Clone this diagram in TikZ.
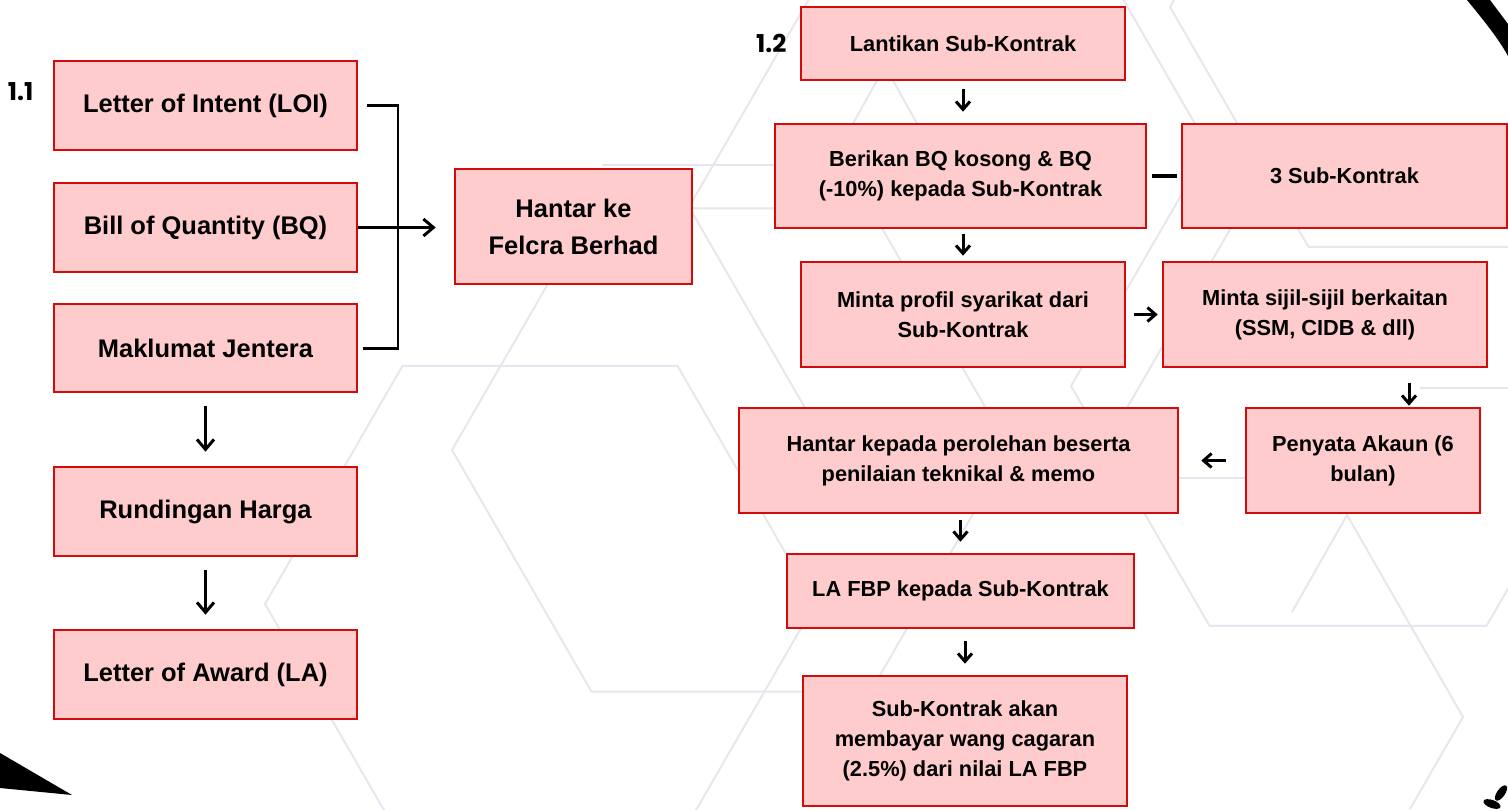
\documentclass[tikz,border=0pt]{standalone}
\usepackage{fontspec}
\setmainfont{Liberation Sans}
\newfontfamily\numfont{Poppins}
\usetikzlibrary{arrows.meta, positioning, calc}
\definecolor{boxfill}{HTML}{FFCCCE}
\definecolor{boxred}{HTML}{D40B0B}
\definecolor{hexgrey}{HTML}{E6E6EE}

\tikzset{
  stepbox/.style={draw=boxred, fill=boxfill, line width=1.5pt, align=center, inner sep=2pt,
    font=\fontsize{14.5}{21}\selectfont\bfseries},
  smallbox/.style={stepbox, font=\fontsize{12.4}{17}\selectfont\bfseries},
  numlabel/.style={font=\numfont\fontsize{14}{16}\selectfont\bfseries, inner sep=0pt},
  link/.style={line width=1.7pt, black},
  flow/.style={link, -{Straight Barb[length=0.2cm, width=0.34cm]}},
  shortflow/.style={link, -{Straight Barb[length=0.16cm, width=0.28cm]}},
  hexline/.style={draw=hexgrey, line width=1.1pt, line join=round}
}

\begin{document}
\begin{tikzpicture}[x=0.02cm, y=-0.02cm]
  % page and margins
  \fill[white] (0,0) rectangle (1508,809);
  \useasboundingbox (0,0) rectangle (1508,809);

  % faint hexagon pattern in the background
  \foreach \cx/\cy/\r in {540/604/275, 731/450/279, 1348/386/277, 1447/7/277, 966/207/277}
    \draw[hexline] (\cx,\cy) +(0:\r) -- +(60:\r) -- +(120:\r) -- +(180:\r) -- +(240:\r) -- +(300:\r) -- cycle;
  \draw[hexline] (1292,612) -- (1347,515) -- (1463,717) -- (1410,809);
  \draw[hexline] (840,147) -- (885,66) -- (930,147);
  \draw[hexline] (602,165) -- (780,165);
  \draw[hexline] (1150,478) -- (1300,478);
  \draw[hexline] (1420,388) -- (1508,388);

  % corner ornaments
  \fill[black] (1467,0) .. controls (1485,22) and (1498,38) .. (1508,56) -- (1508,24)
    .. controls (1502,16) and (1496,8) .. (1490,0) -- cycle;
  \fill[black] (0,753) -- (72,795) -- (0,788) -- cycle;
  \fill[black] (1501,793) ellipse [x radius=4, y radius=9, rotate=-35];
  \fill[black] (1492,804) ellipse [x radius=9, y radius=4, rotate=-20];

  % 1.1 left column
  \node[stepbox, minimum width=6.06cm, minimum height=1.78cm] (loi) at (205.5,105.5) {Letter of Intent (LOI)};
  \node[stepbox, minimum width=6.06cm, minimum height=1.78cm] (bq) at (205.5,227.5) {Bill of Quantity (BQ)};
  \node[stepbox, minimum width=6.06cm, minimum height=1.76cm] (jentera) at (205.5,348) {Maklumat Jentera};
  \node[stepbox, minimum width=6.06cm, minimum height=1.78cm] (harga) at (205.5,511.5) {Rundingan Harga};
  \node[stepbox, minimum width=6.06cm, minimum height=1.78cm] (award) at (205.5,674.5) {Letter of Award (LA)};
  \node[stepbox, minimum width=4.74cm, minimum height=2.3cm] (felcra) at (573.5,226.5) {Hantar ke\\Felcra Berhad};
  \node[numlabel, anchor=east] (num11) at ([xshift=-0.38cm, yshift=0.27cm]loi.west) {1.1};

  \coordinate (joint) at (398,227.5);
  \draw[link] ([xshift=0.18cm]loi.east) -| (joint) |- ([xshift=0.1cm]jentera.east);
  \draw[flow, shorten >=0.36cm] (bq.east) -- (bq.east -| felcra.west);
  \draw[flow, shorten <=0.26cm, shorten >=0.28cm] (jentera) -- (harga);
  \draw[flow, shorten <=0.26cm, shorten >=0.28cm] (harga) -- (award);

  % 1.2 right part
  \node[smallbox, minimum width=6.48cm, minimum height=1.46cm] (lantikan) at (963,43.5) {Lantikan Sub-Kontrak};
  \node[smallbox, minimum width=7.42cm, minimum height=2.08cm] (berikan) at (960.5,176) {Berikan BQ kosong \& BQ\\(-10\%) kepada Sub-Kontrak};
  \node[smallbox, minimum width=6.5cm, minimum height=2.08cm] (tigasub) at (1344.5,176) {3 Sub-Kontrak};
  \node[smallbox, minimum width=6.48cm, minimum height=2.1cm] (profil) at (963,314.5) {Minta profil syarikat dari\\Sub-Kontrak};
  \node[smallbox, minimum width=6.48cm, minimum height=2.1cm] (sijil) at (1325,314.5) {Minta sijil-sijil berkaitan\\(SSM, CIDB \& dll)};
  \node[smallbox, minimum width=4.68cm, minimum height=2.1cm] (penyata) at (1363,460.5) {Penyata Akaun (6\\bulan)};
  \node[smallbox, minimum width=8.78cm, minimum height=2.1cm] (perolehan) at (958.5,460.5) {Hantar kepada perolehan beserta\\penilaian teknikal \& memo};
  \node[smallbox, minimum width=6.94cm, minimum height=1.48cm] (lafbp) at (960.5,591) {LA FBP kepada Sub-Kontrak};
  \node[smallbox, minimum width=6.48cm, minimum height=2.6cm] (cagaran) at (965,741) {Sub-Kontrak akan\\membayar wang cagaran\\(2.5\%) dari nilai LA FBP};
  \node[numlabel, left=0.26cm of lantikan.west] (num12) {1.2};

  \coordinate (dropin) at ($(penyata.north)+(46,0)$);
  \draw[shortflow, shorten <=0.16cm, shorten >=0.22cm] (lantikan.south) -- (lantikan.south |- berikan.north);
  \draw[shortflow, shorten <=0.1cm, shorten >=0.1cm] (berikan.south -| profil.north) -- (profil.north);
  \draw[link, line width=2.2pt, shorten <=0.1cm, shorten >=0.08cm] (berikan.east) -- (tigasub.west);
  \draw[shortflow, shorten <=0.16cm, shorten >=0.08cm] (profil.east) -- (sijil.west);
  \draw[shortflow, shorten <=0.3cm, shorten >=0.02cm] (dropin |- sijil.south) -- (dropin);
  \draw[shortflow, shorten <=0.38cm, shorten >=0.44cm] (penyata.west) -- (perolehan.east);
  \draw[shortflow, shorten <=0.12cm, shorten >=0.22cm] (lafbp.north |- perolehan.south) -- (lafbp.north);
  \draw[shortflow, shorten <=0.24cm, shorten >=0.22cm] (lafbp.south -| cagaran.north) -- (cagaran.north);
\end{tikzpicture}
\end{document}
